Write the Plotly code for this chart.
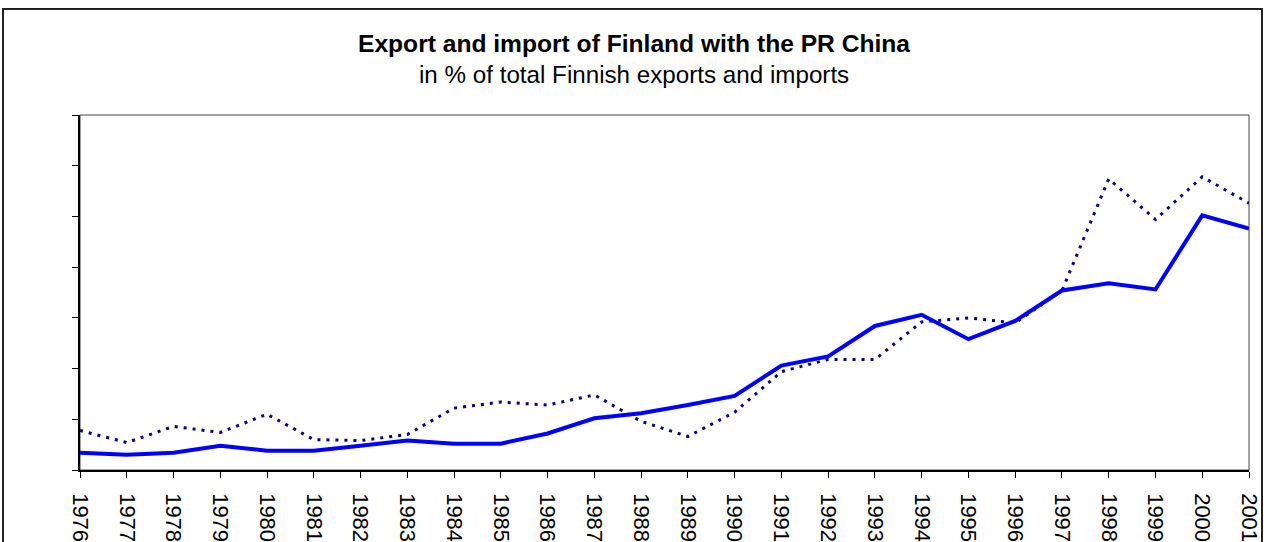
import plotly.graph_objects as go

years = [str(y) for y in range(1976, 2002)]
exports_share = [0.17, 0.15, 0.17, 0.24, 0.19, 0.19, 0.24, 0.29, 0.26, 0.26, 0.36, 0.51, 0.56, 0.64,
                 0.73, 1.03, 1.12, 1.42, 1.53, 1.29, 1.47, 1.77, 1.84, 1.78, 2.51, 2.38]
imports_share = [0.39, 0.27, 0.43, 0.37, 0.55, 0.30, 0.29, 0.35, 0.61, 0.67, 0.64, 0.74, 0.48, 0.33,
                 0.57, 0.97, 1.09, 1.09, 1.46, 1.50, 1.45, 1.77, 2.87, 2.47, 2.89, 2.63]
y_ticks = [0, 0.5, 1, 1.5, 2, 2.5, 3, 3.5]

title_text = "Export and import of Finland with the PR China"
subtitle_text = "in % of total Finnish exports and imports"

fig = go.Figure()
fig.add_trace(go.Scatter(x=years, y=imports_share, mode="lines", name="Imports",
                         line=dict(color="#000080", width=3, dash="3px,6px")))
fig.add_trace(go.Scatter(x=years, y=exports_share, mode="lines", name="Exports",
                         line=dict(color="#0000FF", width=4)))

L, R, T, B = 80, 17, 115, 72
W, H = 1266, 542
ph = H - T - B
pw = W - L - R

def py(p):
    return (H - B - p) / ph

def px(p):
    return (p - L) / pw

fig.update_layout(
    width=W, height=H,
    margin=dict(l=L, r=R, t=T, b=B, autoexpand=False),
    paper_bgcolor="white", plot_bgcolor="white",
    showlegend=False,
    font=dict(family="Liberation Sans, Arial, sans-serif", color="black"),
    xaxis=dict(type="category", range=[0, len(years) - 1], showgrid=False, zeroline=False,
               automargin=False,
               showline=True, linecolor="black", linewidth=1.5,
               ticks="outside", ticklen=6, tickcolor="black", tickwidth=1,
               tickangle=90, tickfont=dict(size=22, family="Liberation Sans, Arial, sans-serif"),
               ticklabelstandoff=11),
    yaxis=dict(range=[0, 3.5], tickvals=y_ticks, showticklabels=False, showgrid=False,
               automargin=False,
               zeroline=False, showline=True, linecolor="black", linewidth=1.5,
               ticks="outside", ticklen=6, tickcolor="black", tickwidth=1),
    shapes=[
        dict(type="rect", xref="paper", yref="paper", x0=0, x1=1, y0=0, y1=1,
             line=dict(color="#444444", width=1), layer="below"),
        dict(type="rect", xref="paper", yref="paper", x0=px(3), x1=px(1262), y0=py(560), y1=py(9),
             line=dict(color="#222222", width=2), layer="below"),
    ],
    annotations=[
        dict(text="<b>" + title_text + "</b>", xref="paper", yref="paper", x=px(634), y=py(43),
             xanchor="center", yanchor="middle", showarrow=False,
             font=dict(size=24.6, family="Liberation Sans, Arial, sans-serif")),
        dict(text=subtitle_text, xref="paper", yref="paper", x=px(634), y=py(75),
             xanchor="center", yanchor="middle", showarrow=False,
             font=dict(size=24.2, family="Liberation Sans, Arial, sans-serif")),
    ],
)

fig.write_html("out.html", config={"displayModeBar": False},
               post_script="document.body.style.margin='0';")
